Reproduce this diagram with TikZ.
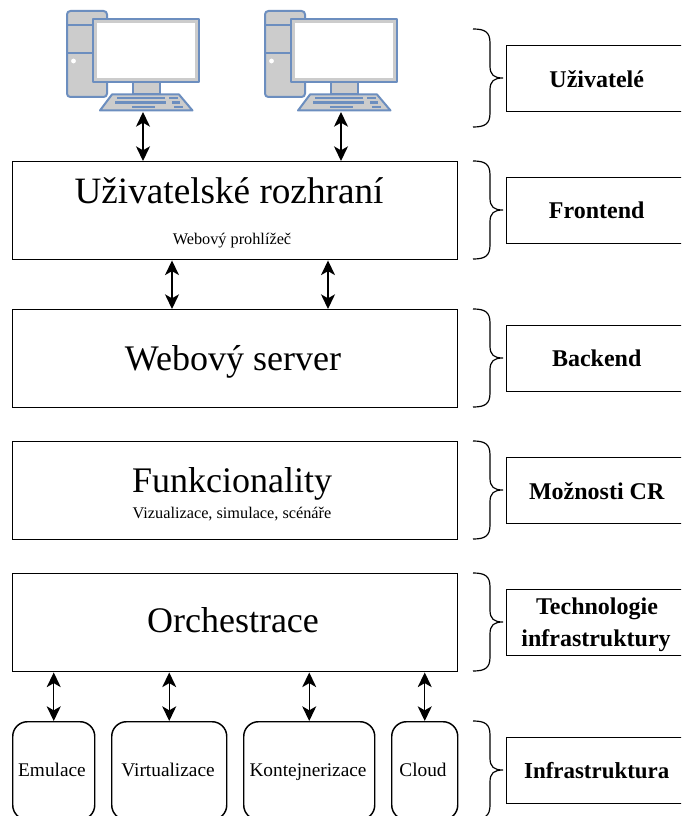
\documentclass[tikz,border=0pt]{standalone}
\usepackage{fontspec}
\setmainfont{Liberation Serif}
\usetikzlibrary{arrows.meta,positioning}
\definecolor{pcblue}{HTML}{6C8EBF}
\definecolor{pcgray}{HTML}{CCCCCC}
\tikzset{
 x=0.75pt,y=-0.75pt,
 mainbox/.style={draw=black,line width=1.1pt,fill=white,minimum width=333.75pt,minimum height=73.5pt,inner sep=0pt,anchor=north west},
 sidebox/.style={draw=black,line width=1.1pt,fill=white,minimum width=135pt,minimum height=49.5pt,inner sep=0pt,anchor=north west,font=\fontsize{18}{21}\selectfont\bfseries,align=center},
 infrabox/.style={draw=black,line width=1.1pt,fill=white,rounded corners=11pt,minimum height=73.5pt,inner sep=0pt,anchor=north west},
 infratext/.style={font=\fontsize{14.5}{17}\selectfont,inner sep=0pt,anchor=base},
 bigtext/.style={font=\fontsize{27}{31}\selectfont,inner sep=0pt,anchor=base},
 smalltext/.style={font=\fontsize{12.2}{14}\selectfont,inner sep=0pt,anchor=base},
 boldtext/.style={font=\fontsize{18}{24}\selectfont\bfseries,inner sep=0pt,anchor=base},
 link/.style={line width=1.1pt,{Stealth[length=11pt,width=10.5pt,inset=3pt]}-{Stealth[length=11pt,width=10.5pt,inset=3pt]}},
 bracepath/.style={line width=0.9pt,black},
 pcpart/.style={draw=pcblue,fill=pcgray,line width=1.5pt,line join=round},
 pckey/.style={fill=pcblue,draw=none},
}
\newcommand{\sidebrace}[2]{% top y, height
 \draw[bracepath] (473,#1) .. controls (485,#1) and (490,{#1+3}) .. (490,{#1+14})
  -- (490,{#1+#2/2-12}) .. controls (490,{#1+#2/2-3}) and (494,{#1+#2/2}) .. (503,{#1+#2/2})
  .. controls (494,{#1+#2/2}) and (490,{#1+#2/2+3}) .. (490,{#1+#2/2+12})
  -- (490,{#1+#2-14}) .. controls (490,{#1+#2-3}) and (485,{#1+#2}) .. (473,{#1+#2});}
\newcommand{\computer}[2]{% x offset, name
 \begin{scope}[xshift=#1*0.75pt]
  \path[pcpart,rounded corners=2.5pt] (67,11) rectangle (107,97);
  \draw[pcblue,line width=1.5pt] (67,25) -- (93,25) (67,53) -- (93,53);
  \fill[white] (73.5,61) circle (2.4);
  \path[pcpart] (133,82) rectangle (160,94);
  \path[pcpart] (93,19) rectangle (199,82);
  \path[fill=white] (97,23) rectangle (195,78);
  \path[pcpart] (112,94.5) -- (179,94.5) -- (192.5,110.5) -- (100,110.5) -- cycle;
  \fill[pckey] (117,97) rectangle (165,99.5);
  \fill[pckey] (169,97) rectangle (178,99.5);
  \fill[pckey] (115,101.5) rectangle (166,104);
  \fill[pckey] (172,101.5) rectangle (180,104);
  \fill[pckey] (132,106) rectangle (155,108.5);
  \fill[pckey] (174,106) rectangle (183,108.5);
  \coordinate (#2) at (143,112);
 \end{scope}}
\begin{document}
\begin{tikzpicture}
\path[clip] (0,0) rectangle (681,816);
\fill[white] (0,0) rectangle (681,816);
\computer{0}{pca}
\computer{198}{pcb}
% main boxes
\node[mainbox] (ui) at (12,161) {};
\node[bigtext,font=\fontsize{27.9}{31}\selectfont] (uit) at (229,204) {Uživatelské rozhraní};
\node[smalltext] (uis) at (232,245) {Webový prohlížeč};
\node[mainbox] (web) at (12,309) {};
\node[bigtext] (webt) at (233,370) {Webový server};
\node[mainbox] (fun) at (12,441) {};
\node[bigtext] (funt) at (232,492) {Funkcionality};
\node[smalltext] (funs) at (232,518) {Vizualizace, simulace, scénáře};
\node[mainbox] (orch) at (12,573) {};
\node[bigtext] (orcht) at (233,632) {Orchestrace};
% infrastructure
\node[infrabox,minimum width=61.5pt] (emu) at (12,721) {};
\node[infratext] (emut) at (52,776) {Emulace};
\node[infrabox,minimum width=86.25pt] (vir) at (111,721) {};
\node[infratext] (virt) at (168,776) {Virtualizace};
\node[infrabox,minimum width=98.25pt] (kon) at (243,721) {};
\node[infratext] (kont) at (308,776) {Kontejnerizace};
\node[infrabox,minimum width=49.5pt] (clo) at (391,721) {};
\node[infratext] (clot) at (423,776) {Cloud};
% side boxes
\node[sidebox] (s1) at (506,45) {Uživatelé};
\node[sidebox] (s2) at (506,177) {Frontend};
\node[sidebox] (s3) at (506,325) {Backend};
\node[sidebox] (s4) at (506,457) {Možnosti CR};
\node[sidebox] (s5) at (506,589) {};
\node[boldtext] (s5a) at (597,614) {Technologie};
\node[boldtext] (s5b) at (596,646) {infrastruktury};
\node[sidebox,font=\fontsize{17.2}{21}\selectfont\bfseries] (s6) at (506,737) {Infrastruktura};
% braces
\sidebrace{29}{98}
\sidebrace{161}{98}
\sidebrace{309}{98}
\sidebrace{441}{98}
\sidebrace{573}{98}
\sidebrace{721}{98}
% connectors
\draw[link] (pca) -- (pca |- ui.north);
\draw[link] (pcb) -- (pcb |- ui.north);
\coordinate (m1) at (172,284);
\coordinate (m2) at (328,284);
\draw[link] (m1 |- ui.south) -- (m1 |- web.north);
\draw[link] (m2 |- ui.south) -- (m2 |- web.north);
\draw[link] (orch.south -| emu.north) -- (emu.north);
\draw[link] (orch.south -| vir.north) -- (vir.north);
\draw[link] (orch.south -| kon.north) -- (kon.north);
\draw[link] (orch.south -| clo.north) -- (clo.north);
\end{tikzpicture}
\end{document}
